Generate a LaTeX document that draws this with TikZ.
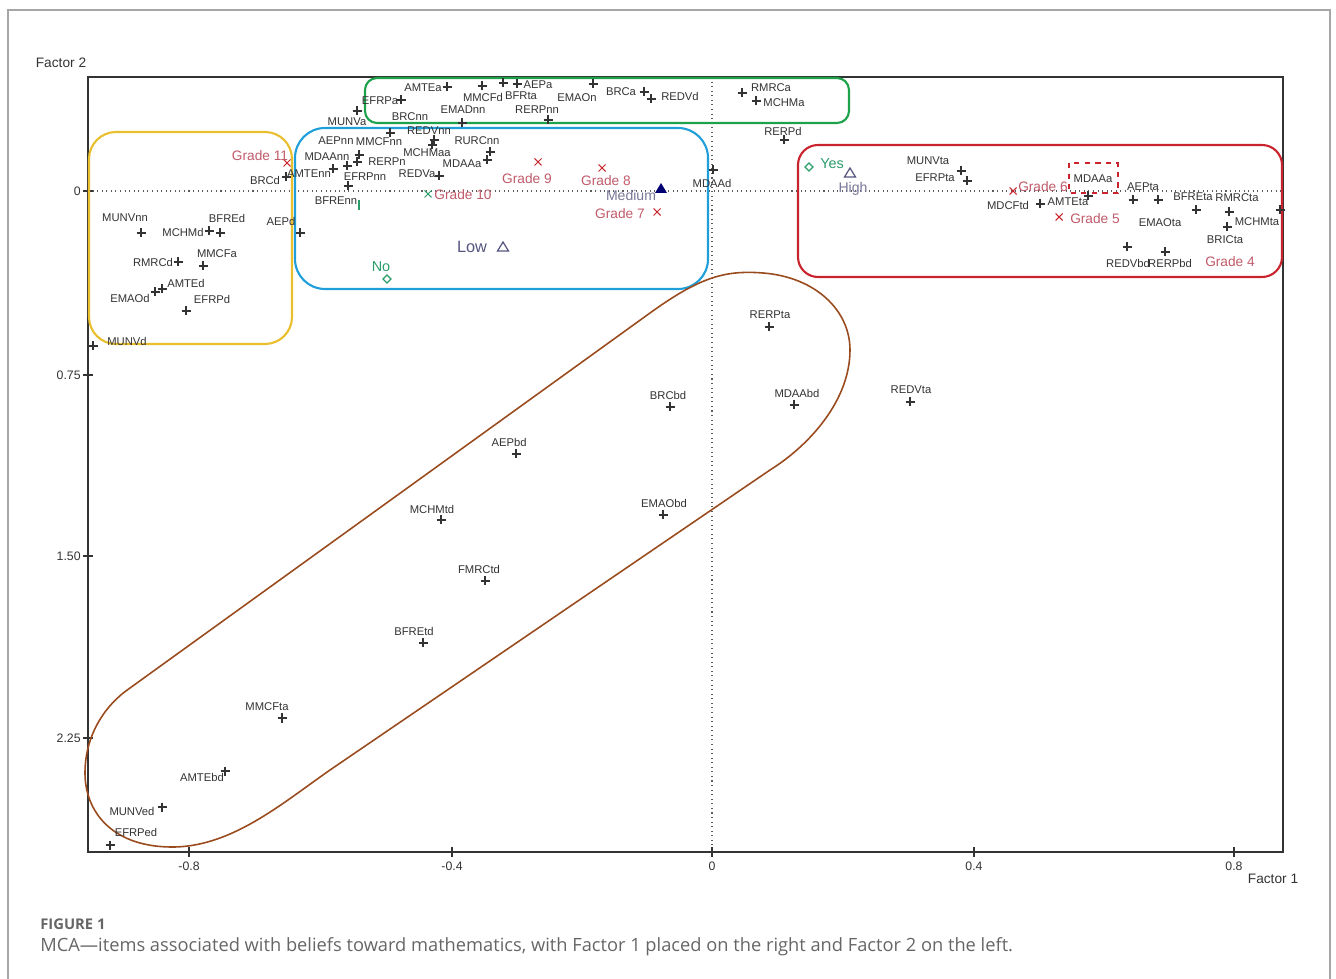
\documentclass[tikz,border=0pt]{standalone}
\usepackage{fontspec}
\setmainfont{Liberation Sans}
\newfontfamily\capfont{Open Sans}
\definecolor{boxyellow}{HTML}{E9BF2E}
\definecolor{boxblue}{HTML}{1E9FDA}
\definecolor{boxgreen}{HTML}{1DA24B}
\definecolor{boxred}{HTML}{C9232D}
\definecolor{loopbrown}{HTML}{9A4B1E}
\definecolor{gradered}{HTML}{C05A6A}
\definecolor{yesgreen}{HTML}{2A9D6A}
\definecolor{levelblue}{HTML}{55557F}
\definecolor{itemgray}{HTML}{333333}
\definecolor{capgray}{HTML}{666666}
\begin{document}
\begin{tikzpicture}[x=0.02cm, y=-0.02cm,
    item/.style={text=itemgray, font=\fontsize{6.4}{7}\selectfont, inner sep=0pt},
    grade/.style={text=gradered, font=\fontsize{7.8}{9}\selectfont, inner sep=0pt},
    level/.style={text=levelblue, font=\fontsize{8}{9}\selectfont, inner sep=0pt},
    answer/.style={text=yesgreen, font=\fontsize{8.2}{9}\selectfont, inner sep=0pt},
    ticklabel/.style={text=itemgray, font=\fontsize{7}{8}\selectfont, inner sep=0pt},
    plusmark/.style={draw=itemgray, line width=0.6pt},
    crossmark/.style={draw=boxred, line width=0.6pt},
    groupbox/.style={line width=1.2pt}]
    \useasboundingbox (0,0) rectangle (1336,979);
    \draw[gray!70, line width=0.7pt] (8,979) -- (8,10) -- (1330,10) -- (1330,979);

    % axes
    \draw[itemgray!80, dotted, line width=0.6pt] (88,191) -- (1283,191);
    \draw[itemgray!80, dotted, line width=0.6pt] (712,77) -- (712,852);
    \draw[itemgray, line width=0.8pt] (88,77) rectangle (1283,852);
    \foreach \ty/\tl in {191/0, 375/0.75, 556/1.50, 738/2.25}{
        \draw[itemgray, line width=0.8pt] (83,\ty) -- (93,\ty);
        \node[ticklabel, anchor=east] (ty\tl) at (81,\ty) {\tl};
    }
    \foreach \tx/\tl in {189/-0.8, 452/-0.4, 712/0, 974/0.4, 1234/0.8}{
        \draw[itemgray, line width=0.8pt] (\tx,847) -- (\tx,857);
        \node[ticklabel] (tx\tl) at (\tx,866) {\tl};
    }
    \node[text=itemgray, font=\fontsize{7.8}{9}\selectfont, inner sep=0pt] (f2) at (61,63) {Factor 2};
    \node[text=itemgray, font=\fontsize{7.8}{9}\selectfont, inner sep=0pt] (f1) at (1273,879) {Factor 1};

    % groups
    \draw[groupbox, boxyellow, rounded corners=0.54cm] (89,132) rectangle (292,344);
    \draw[groupbox, boxblue, rounded corners=0.6cm] (295,128) rectangle (708,289);
    \draw[groupbox, boxgreen, rounded corners=0.24cm] (365,78) rectangle (849,123);
    \draw[groupbox, boxred, rounded corners=0.4cm] (798,145) rectangle (1282,277);
    \draw[boxred, line width=0.9pt, dashed] (1069,163) rectangle (1118,193);
    \draw[loopbrown, line width=0.9pt] (130,688) -- (650,313)
        .. controls (700,277) and (725,270) .. (763,273)
        .. controls (815,277) and (850,310) .. (850,350)
        .. controls (850,400) and (810,445) .. (770,470)
        -- (330,770)
        .. controls (280,805) and (230,848) .. (170,847)
        .. controls (110,846) and (85,810) .. (85,773)
        .. controls (85,735) and (105,705) .. cycle;

    % items
    \foreach \mx/\my in {141/233, 209/231, 220/233, 178/262, 203/266, 155/292, 162/289,
        186/311, 93/346, 286/177, 300/233, 333/169, 347/166, 359/155, 357/162, 348/186,
        390/133, 434/140, 432/145, 490/152, 487/160, 439/176, 462/123, 357/111, 401/100,
        447/87, 482/86, 503/83, 517/84, 548/120, 593/84, 644/92, 651/99, 742/93, 756/101,
        784/140, 713/170, 961/171, 967/181, 1040/204, 1088/196, 1133/200, 1158/200,
        1196/210, 1229/212, 1227/227, 1280/210, 1127/247, 1165/252, 769/327, 670/407,
        794/405, 910/402, 516/454, 441/520, 663/515, 485/581, 423/643, 282/718, 225/771,
        162/807, 110/845}
        \draw[plusmark] (\mx,\my) +(-4.5,0) -- +(4.5,0) +(0,-4.5) -- +(0,4.5);
    \foreach \lx/\ly/\lt [count=\i] in {125/218/MUNVnn, 183/232/MCHMd, 227/218/BFREd,
        281/221/AEPd, 153/262/RMRCd, 217/254/MMCFa, 186/283/AMTEd, 130/298/EMAOd,
        212/299/EFRPd, 127/341/MUNVd, 265/180/BRCd, 309/174/AMTEnn, 336/141/AEPnn,
        379/142/MMCFnn, 327/157/MDAAnn, 387/162/RERPn, 365/177/EFRPnn, 336/201/BFREnn,
        347/122/MUNVa, 380/101/EFRPa, 410/117/BRCnn, 429/131/REDVnn, 477/141/RURCnn,
        427/153/MCHMaa, 462/164/MDAAa, 417/174/REDVa, 423/88/AMTEa, 483/97/MMCFd,
        521/96/BFRta, 538/85/AEPa, 463/110/EMADnn, 537/110/RERPnn, 577/98/EMAOn,
        621/92/BRCa, 680/96/REDVd, 771/88/RMRCa, 784/103/MCHMa, 783/131/RERPd,
        712/183/MDAAd, 928/161/MUNVta, 935/178/EFRPta, 1008/205/MDCFtd, 1093/179/MDAAa,
        1068/202/AMTEta, 1143/187/AEPta, 1193/197/BFREta, 1237/198/RMRCta,
        1257/222/MCHMta, 1160/223/EMAOta, 1225/240/BRICta, 1128/263/REDVbd,
        1170/263/RERPbd, 770/315/RERPta, 668/395/BRCbd, 797/393/MDAAbd, 911/390/REDVta,
        509/442/AEPbd, 432/509/MCHMtd, 664/503/EMAObd, 479/569/FMRCtd, 414/631/BFREtd,
        267/707/MMCFta, 202/777/AMTEbd, 132/811/MUNVed, 136/832/EFRPed}
        \node[item] (item\i) at (\lx,\ly) {\lt};

    % grades
    \foreach \gx/\gy in {287/163, 538/162, 602/168, 657/212, 1013/191, 1059/217}
        \draw[crossmark] (\gx,\gy) +(-3.5,-3.5) -- +(3.5,3.5) +(-3.5,3.5) -- +(3.5,-3.5);
    \draw[yesgreen, line width=0.6pt] (428,194) +(-3.5,-3.5) -- +(3.5,3.5) +(-3.5,3.5) -- +(3.5,-3.5);
    \foreach \gx/\gy/\gl [count=\i] in {260/156/Grade 11, 463/195/Grade 10, 527/179/Grade 9,
        606/181/Grade 8, 620/214/Grade 7, 1043/187/Grade 6, 1095/219/Grade 5,
        1230/262/Grade 4}
        \node[grade] (grade\i) at (\gx,\gy) {\gl};

    % answers and levels
    \draw[yesgreen, line width=0.7pt] (359,200) -- (359,210);
    \draw[yesgreen, line width=0.7pt] (809,163) -- (813,167) -- (809,171) -- (805,167) -- cycle;
    \draw[yesgreen, line width=0.7pt] (387,275) -- (391,279) -- (387,283) -- (383,279) -- cycle;
    \node[answer] (yes) at (832,164) {Yes};
    \node[answer] (no) at (381,267) {No};
    \draw[levelblue, line width=0.7pt] (503,242) -- (508.5,251) -- (497.5,251) -- cycle;
    \draw[levelblue, line width=0.7pt] (850,168) -- (855.5,177) -- (844.5,177) -- cycle;
    \fill[blue!45!black] (661,183) -- (667,193) -- (655,193) -- cycle;
    \node[level, font=\fontsize{9.3}{10}\selectfont] (low) at (472,247) {Low};
    \node[level, text=levelblue!80] (medium) at (631,195) {Medium};
    \node[level, text=levelblue!80] (high) at (853,189) {High};

    % caption
    \node[capgray, font=\capfont\bfseries\fontsize{8.4}{10}\selectfont, anchor=west, inner sep=0pt] (figno) at (40,924) {FIGURE 1};
    \node[capgray, font=\capfont\fontsize{10.4}{12}\selectfont, anchor=west, inner sep=0pt] (caption) at (40,947) {MCA—items associated with beliefs toward mathematics, with Factor 1 placed on the right and Factor 2 on the left.};
\end{tikzpicture}
\end{document}
